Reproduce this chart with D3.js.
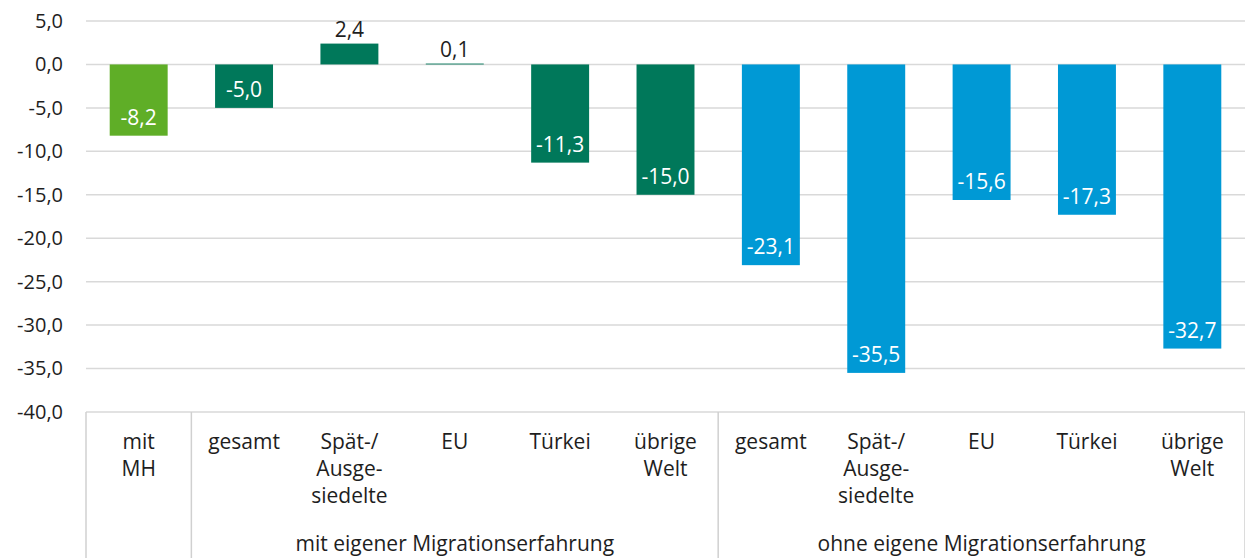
<!DOCTYPE html>
<html>
<head>
<meta charset="utf-8">
<script src="https://cdn.jsdelivr.net/npm/d3@7"></script>
<style>
  body { margin: 0; background: #fff; }
  text { font-family: "Open Sans", "Noto Sans", sans-serif; fill: #1e1e1e; }
</style>
</head>
<body>
<svg width="1245" height="558"></svg>
<script>
(function () {
  'use strict';

  // data
  const categories = ['mitMH', 'e_gesamt', 'e_spaet', 'e_eu', 'e_tuerkei', 'e_welt',
                      'o_gesamt', 'o_spaet', 'o_eu', 'o_tuerkei', 'o_welt'];
  const categoryLabels = [
    ['mit', 'MH'], ['gesamt'], ['Spät-/', 'Ausge-', 'siedelte'], ['EU'], ['Türkei'], ['übrige', 'Welt'],
    ['gesamt'], ['Spät-/', 'Ausge-', 'siedelte'], ['EU'], ['Türkei'], ['übrige', 'Welt']
  ];
  const values = [-8.2, -5.0, 2.4, 0.1, -11.3, -15.0, -23.1, -35.5, -15.6, -17.3, -32.7];
  const groupOf = ['mh', 'mit', 'mit', 'mit', 'mit', 'mit', 'ohne', 'ohne', 'ohne', 'ohne', 'ohne'];
  const groups = ['mh', 'mit', 'ohne'];
  const groupLabels = ['', 'mit eigener Migrationserfahrung', 'ohne eigene Migrationserfahrung'];
  const groupColors = ['#5fae27', '#00785a', '#0099d5'];
  const yTicks = [5, 0, -5, -10, -15, -20, -25, -30, -35, -40];

  const svg = d3.select('svg');
  const width = +svg.attr('width');

  const margin = { top: 21, right: 0, bottom: 146, left: 86 };
  const innerWidth = width - margin.left - margin.right;
  const innerHeight = 412 - margin.top;

  const de = d3.formatLocale({ decimal: ',', thousands: '.', grouping: [3], currency: ['', ' €'], minus: '-' });
  const fmt = de.format('.1f');

  const color = d3.scaleOrdinal().domain(groups).range(groupColors);

  const xScale = d3.scaleBand()
    .domain(categories)
    .range([0, innerWidth])
    .paddingInner(0.45)
    .paddingOuter(0.225);

  const yScale = d3.scaleLinear()
    .domain([-40, 5])
    .range([innerHeight, 0]);

  const g = svg.append('g')
    .attr('transform', `translate(${margin.left},${margin.top})`);

  // gridlines
  g.selectAll('.grid').data(yTicks).enter()
    .append('line')
      .attr('x1', 0)
      .attr('x2', innerWidth)
      .attr('y1', d => yScale(d))
      .attr('y2', d => yScale(d))
      .attr('stroke', '#d9d9d9')
      .attr('stroke-width', 1.5);

  // y axis labels
  const yAxis = d3.axisLeft(yScale)
    .tickValues(yTicks)
    .tickFormat(fmt)
    .tickSize(0)
    .tickPadding(23);
  const yAxisG = g.append('g').call(yAxis);
  yAxisG.select('.domain').remove();
  yAxisG.selectAll('text')
    .attr('font-size', '20px')
    .attr('fill', '#1e1e1e')
    .attr('font-family', '"Open Sans", sans-serif');

  // bars
  g.selectAll('.bar').data(values).enter()
    .append('rect')
      .attr('x', (d, i) => xScale(categories[i]))
      .attr('width', xScale.bandwidth())
      .attr('y', d => yScale(Math.max(0, d)))
      .attr('height', d => Math.abs(yScale(d) - yScale(0)))
      .attr('fill', (d, i) => color(groupOf[i]));

  // value labels
  g.selectAll('.val').data(values).enter()
    .append('text')
      .attr('x', (d, i) => xScale(categories[i]) + xScale.bandwidth() / 2)
      .attr('y', d => d < 0 ? yScale(d) - 11 : yScale(d) - 7)
      .attr('text-anchor', 'middle')
      .attr('font-size', '21px')
      .style('fill', d => d < 0 ? '#fff' : '#1e1e1e')
      .text(d => fmt(d));

  // category axis
  const step = xScale.step();
  const catTop = innerHeight;
  const bottom = 558 - margin.top;

  // separators
  const sepIdx = [0, 1, 6, 11];
  g.selectAll('.sep').data(sepIdx).enter()
    .append('line')
      .attr('x1', d => d * step)
      .attr('x2', d => d * step)
      .attr('y1', catTop)
      .attr('y2', bottom)
      .attr('stroke', '#d0d0d0')
      .attr('stroke-width', 1.5);

  const catG = g.selectAll('.cat').data(categoryLabels).enter()
    .append('text')
      .attr('text-anchor', 'middle')
      .attr('font-size', '21px')
      .attr('transform', (d, i) => `translate(${xScale(categories[i]) + xScale.bandwidth() / 2},${catTop + 37})`);
  catG.selectAll('tspan').data(d => d).enter()
    .append('tspan')
      .attr('x', 0)
      .attr('y', (d, i) => i * 27)
      .text(d => d);

  // group labels
  groups.forEach((grp, gi) => {
    if (!groupLabels[gi]) return;
    const idx = groupOf.map((v, i) => v === grp ? i : -1).filter(i => i >= 0);
    const x0 = xScale(categories[idx[0]]) - xScale.step() * xScale.paddingInner() / 2;
    const x1 = x0 + idx.length * step;
    g.append('text')
      .attr('x', (x0 + x1) / 2)
      .attr('y', catTop + 139)
      .attr('text-anchor', 'middle')
      .attr('font-size', '21px')
      .text(groupLabels[gi]);
  });
}());
</script>
</body>
</html>
